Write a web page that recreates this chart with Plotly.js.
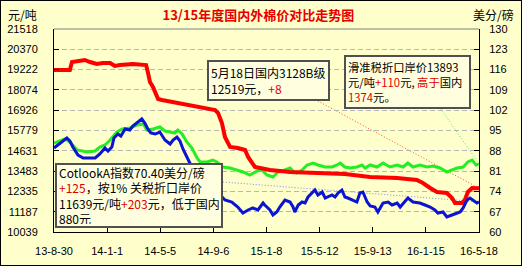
<!DOCTYPE html>
<html>
<head>
<meta charset="utf-8">
<script src="https://cdn.plot.ly/plotly-3.0.1.min.js"></script>
<style>
html,body{margin:0;padding:0;background:#ffffcc;}
#wrap{width:520px;height:264px;border:1px solid #000;}
#chart{width:520px;height:264px;}
</style>
</head>
<body>
<div id="wrap"><div id="chart"></div></div>
<script>
// ---- data ----
const xTickDates = ['2013-08-30','2014-01-01','2014-05-05','2014-09-06','2015-01-08','2015-05-12','2015-09-13','2016-01-15','2016-05-18'];
const xTickLabels = ['13-8-30','14-1-1','14-5-5','14-9-6','15-1-8','15-5-12','15-9-13','16-1-15','16-5-18'];
const leftTicks = [10039,11187,12335,13483,14631,15779,16926,18074,19222,20370,21518];
const rightTicks = [60,67,74,81,88,95,102,109,116,123,130];

// 国内3128B级 (元/吨)
const redDates = ['2013-08-30','2013-10-06','2013-10-11','2013-10-23','2013-11-10','2013-11-22','2013-12-08','2013-12-22','2014-01-08','2014-01-19','2014-01-31','2014-03-02','2014-03-30','2014-04-02','2014-04-06','2014-04-11','2014-04-18','2014-04-23','2014-04-30','2014-05-09','2014-06-13','2014-07-13','2014-08-06','2014-08-29','2014-09-10','2014-09-17','2014-09-26','2014-10-03','2014-10-10','2014-10-15','2014-11-02','2014-11-19','2014-11-26','2014-12-05','2014-12-12','2014-12-24','2015-01-16','2015-03-04','2015-04-27','2015-06-05','2015-07-10','2015-09-07','2015-11-09','2015-12-25','2016-01-08','2016-01-25','2016-02-10','2016-03-04','2016-03-16','2016-03-23','2016-04-08','2016-04-15','2016-04-22','2016-05-02','2016-05-18'];
const redValues = [19200,19200,19652,19709,19765,19652,19539,19596,19596,19426,19482,19539,19482,19482,19086,18521,18238,17956,17560,17503,17334,17220,17107,16994,16938,16768,16203,15411,15072,14845,14789,14676,14280,13997,13715,13658,13545,13432,13375,13375,13319,13149,13093,12979,12809,12527,12301,12244,11962,11679,11679,11849,12301,12527,12519];

// 滑准税折口岸价 (元/吨)
const greenDates = ['2013-08-30','2013-09-11','2013-09-25','2013-10-06','2013-10-23','2013-11-15','2013-12-04','2013-12-15','2013-12-27','2014-01-08','2014-01-24','2014-02-05','2014-02-23','2014-03-12','2014-03-26','2014-04-04','2014-04-18','2014-05-04','2014-05-16','2014-05-28','2014-06-08','2014-06-15','2014-06-25','2014-07-06','2014-07-18','2014-07-30','2014-08-06','2014-08-22','2014-09-05','2014-09-14','2014-09-28','2014-10-15','2014-10-31','2014-11-14','2014-11-30','2014-12-17','2014-12-28','2015-01-09','2015-01-23','2015-02-04','2015-02-20','2015-03-04','2015-03-11','2015-03-20','2015-04-01','2015-04-13','2015-04-27','2015-05-08','2015-05-25','2015-06-10','2015-06-22','2015-06-29','2015-07-10','2015-07-22','2015-08-07','2015-08-19','2015-08-26','2015-09-07','2015-09-23','2015-10-07','2015-10-23','2015-11-09','2015-11-23','2015-12-04','2015-12-16','2016-01-01','2016-01-18','2016-02-01','2016-02-17','2016-03-04','2016-03-16','2016-03-28','2016-04-11','2016-04-22','2016-05-02','2016-05-11','2016-05-18'];
const greenValues = [15072,15185,15298,15128,14676,14563,14619,14845,14959,15241,15694,15863,15920,16090,16146,15807,15863,15976,15750,15694,15637,15807,15581,15128,14789,14223,13997,13997,14110,13997,13715,13658,13545,13432,13262,13488,13545,13262,13149,13432,13545,13658,13488,13375,13545,13828,13941,13828,13715,13715,13828,13941,13715,13658,13715,13828,13658,13828,13715,13941,13715,13828,13715,13941,13715,13828,13715,13771,13658,13432,13545,13658,13715,13997,14110,13828,13893];

// CotlookA指数 (美分/磅)
const blueDates = ['2013-08-30','2013-09-13','2013-09-29','2013-10-06','2013-10-13','2013-10-25','2013-11-06','2013-11-22','2013-12-04','2013-12-15','2013-12-27','2014-01-03','2014-01-12','2014-01-17','2014-01-26','2014-02-02','2014-02-12','2014-02-23','2014-03-02','2014-03-14','2014-03-23','2014-03-30','2014-04-06','2014-04-13','2014-04-23','2014-05-04','2014-05-16','2014-05-28','2014-06-04','2014-06-13','2014-06-20','2014-06-27','2014-07-06','2014-07-13','2014-10-03','2014-10-19','2014-11-02','2014-11-14','2014-11-26','2014-12-07','2014-12-19','2014-12-31','2015-01-04','2015-01-16','2015-01-23','2015-02-01','2015-02-08','2015-02-20','2015-03-04','2015-03-11','2015-03-15','2015-03-23','2015-04-01','2015-04-08','2015-04-15','2015-04-24','2015-05-01','2015-05-08','2015-05-18','2015-05-25','2015-06-01','2015-06-10','2015-06-17','2015-06-24','2015-07-03','2015-07-10','2015-07-17','2015-07-29','2015-08-07','2015-08-14','2015-08-21','2015-08-31','2015-09-07','2015-09-18','2015-09-25','2015-10-07','2015-10-19','2015-10-28','2015-11-09','2015-11-16','2015-11-27','2015-12-04','2015-12-16','2016-01-01','2016-01-13','2016-01-25','2016-02-05','2016-02-12','2016-02-24','2016-03-04','2016-03-16','2016-03-28','2016-04-04','2016-04-11','2016-04-15','2016-04-20','2016-04-27','2016-05-04','2016-05-13','2016-05-18'];
const blueValues = [88.97,90.69,92.41,91.38,89.31,86.55,85.52,85.52,85.52,86.90,88.97,87.93,89.31,92.41,93.79,93.10,95.52,95.17,96.55,97.93,98.97,97.59,95.52,94.14,93.79,94.48,91.72,90.34,91.72,92.76,91.38,88.62,85.86,83.79,71.03,70.34,68.62,66.55,67.59,68.28,67.59,70.00,69.31,67.59,65.86,66.90,68.62,71.03,70.34,68.62,66.90,69.31,70.34,70.00,72.07,73.45,74.48,72.76,73.79,71.72,72.07,72.76,72.07,73.45,74.48,72.07,71.72,71.03,70.34,73.45,73.79,70.34,68.97,68.62,66.90,70.00,70.34,69.31,70.00,68.62,70.34,71.72,70.34,70.00,69.31,68.62,67.59,66.55,66.90,65.17,65.86,66.55,66.90,68.28,69.31,71.03,71.72,71.03,70.00,70.40];

// ---- chart ----
const RED_TXT = '#dd0000';
const sp = t => '<span style="color:' + RED_TXT + '">' + t + '</span>';
const last = a => a[a.length - 1];

const traces = [
  {x: blueDates, y: blueValues, yaxis: 'y2', type: 'scatter', mode: 'lines',
   line: {color: '#0a14d2', width: 3}, hoverinfo: 'skip'},
  {x: greenDates, y: greenValues, type: 'scatter', mode: 'lines',
   line: {color: '#22ee22', width: 3}, hoverinfo: 'skip'},
  {x: redDates, y: redValues, type: 'scatter', mode: 'lines',
   line: {color: '#ff0000', width: 4}, hoverinfo: 'skip'}
];

const boxFont = {family: 'Noto Sans CJK SC', size: 12, color: '#000'};
const boxCommon = {xref: 'paper', yref: 'paper', xanchor: 'left', yanchor: 'top',
  showarrow: false, align: 'left', valign: 'middle', font: boxFont,
  bgcolor: '#ffffe0', bordercolor: '#505050', borderwidth: 2, borderpad: 2};

const layout = {
  width: 520, height: 264,
  margin: {l: 53, r: 42, t: 28, b: 33},
  paper_bgcolor: '#ffffcc', plot_bgcolor: '#ffffcc',
  showlegend: false,
  font: {family: 'Liberation Sans', size: 11, color: '#000'},
  title: {text: '13/15年度国内外棉价对比走势图', x: 0.495, xanchor: 'center', y: 0.947, yanchor: 'middle',
          font: {family: 'Noto Sans CJK SC', size: 13, color: '#e60000', weight: 'bold'}},
  xaxis: {type: 'date', range: [xTickDates[0], last(xTickDates)],
          tickmode: 'array', tickvals: xTickDates, ticktext: xTickLabels,
          ticks: 'inside', ticklen: 5, tickcolor: '#000', showline: true, linecolor: '#000', linewidth: 1,
          showgrid: false, zeroline: false, ticklabelstandoff: 9,
          tickfont: {family: 'Liberation Sans', size: 11, color: '#000'}},
  yaxis: {range: [leftTicks[0], last(leftTicks)], tickmode: 'array', tickvals: leftTicks,
          ticktext: leftTicks.map(String),
          ticks: 'inside', ticklen: 5, tickcolor: '#000', showline: true, linecolor: '#000', linewidth: 1,
          showgrid: true, gridcolor: '#b8b8b0', griddash: '5px,3px', gridwidth: 1, zeroline: false,
          ticklabelstandoff: 13,
          tickfont: {family: 'Liberation Sans', size: 11, color: '#000'}},
  yaxis2: {overlaying: 'y', side: 'right', range: [rightTicks[0], last(rightTicks)],
           tickmode: 'array', tickvals: rightTicks, ticktext: rightTicks.map(String),
           ticks: 'inside', ticklen: 5, tickcolor: '#000', showline: true, linecolor: '#000', linewidth: 1,
           showgrid: false, zeroline: false, ticklabelstandoff: 7,
           tickfont: {family: 'Liberation Sans', size: 11, color: '#000'}},
  shapes: [
    {type: 'line', xref: 'paper', yref: 'paper', x0: 0, x1: 1, y0: 1, y1: 1,
     line: {color: '#808080', width: 1}},
    {type: 'line', xref: 'x', yref: 'y', layer: 'below', x0: '2015-05-08', y0: 17446,
     x1: last(redDates), y1: last(redValues), line: {color: '#ff5030', width: 1, dash: '1px,2px'}},
    {type: 'line', xref: 'x', yref: 'y', layer: 'below', x0: '2016-02-19', y0: 16994,
     x1: last(greenDates), y1: last(greenValues), line: {color: '#66dd66', width: 1, dash: '1px,2px'}},
    {type: 'line', xref: 'x', yref: 'y2', layer: 'below', x0: '2014-09-28', y0: 77.24,
     x1: last(blueDates), y1: last(blueValues), line: {color: '#8080ee', width: 1, dash: '1px,2px'}}
  ],
  annotations: [
    {xref: 'paper', yref: 'paper', x: -0.113, y: 1.069, xanchor: 'left', yanchor: 'middle',
     showarrow: false, text: '元/吨', font: {family: 'Noto Sans CJK SC', size: 12, color: '#000'}},
    {xref: 'paper', yref: 'paper', x: 0.981, y: 1.069, xanchor: 'left', yanchor: 'middle',
     showarrow: false, text: '美分/磅', font: {family: 'Noto Sans CJK SC', size: 12, color: '#000'}},
    Object.assign({}, boxCommon, {x: 0.36, y: 0.847, width: 115, height: 33,
      text: '5月18日国内3128B级<br>12519元，' + sp('+8')}),
    Object.assign({}, boxCommon, {x: 0.683, y: 0.872, width: 119, height: 46,
      font: {family: 'Noto Sans CJK SC', size: 11.3, color: '#000'},
      text: '滑准税折口岸价13893<br>元/吨' + sp('+110') + '元, ' + sp('高于') + '国内<br>' + sp('1374') + '元。'}),
    Object.assign({}, boxCommon, {x: 0.002, y: 0.34, width: 160, height: 57,
      text: 'CotlookA指数70.40美分/磅<br>' + sp('+125') + '，按1% 关税折口岸价<br>11639元/吨' + sp('+203') + '元，低于国内<br>880元'})
  ]
};

Plotly.newPlot('chart', traces, layout, {displayModeBar: false, staticPlot: true});
</script>
</body>
</html>
